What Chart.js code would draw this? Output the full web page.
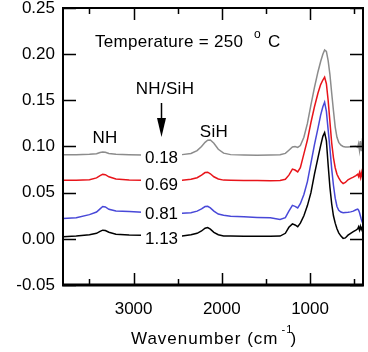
<!DOCTYPE html>
<html>
<head>
<meta charset="utf-8">
<script src="https://cdn.jsdelivr.net/npm/chart.js@4.4.0/dist/chart.umd.min.js"></script>
<style>
    html, body { margin: 0; padding: 0; background: #fff; }
</style>
</head>
<body>
<canvas id="myChart" width="368" height="352"></canvas>
<script>
// wavenumber grid (cm-1) shared by all four spectra
const wavenumbers = [3800, 3650, 3500, 3420, 3380, 3350, 3320, 3280, 3200, 3050,
    2900, 2700, 2450, 2350, 2280, 2230, 2190, 2160, 2130, 2090,
    2040, 1980, 1900, 1750, 1600, 1450, 1340, 1280, 1240, 1200,
    1170, 1140, 1110, 1070, 1030, 990, 950, 910, 880, 855,
    835, 815, 795, 775, 755, 735, 715, 695, 675, 650,
    625, 600, 570, 540, 510, 480, 460, 450, 440, 430,
    420, 410, 400];

// absorbance, offset per sample (NH/SiH ratio)
const gray018 = [0.0910, 0.0912, 0.0915, 0.0922, 0.0935, 0.0940, 0.0937, 0.0925, 0.0915, 0.0910,
    0.0908, 0.0906, 0.0912, 0.0925, 0.0955, 0.1000, 0.1045, 0.1068, 0.1070, 0.1035,
    0.0970, 0.0928, 0.0912, 0.0908, 0.0905, 0.0907, 0.0910, 0.0925, 0.0960, 0.0995,
    0.1000, 0.0990, 0.1010, 0.1100, 0.1250, 0.1450, 0.1640, 0.1810, 0.1920, 0.2000,
    0.2045, 0.2030, 0.1930, 0.1780, 0.1580, 0.1390, 0.1210, 0.1100, 0.1045, 0.1015,
    0.1000, 0.0995, 0.0995, 0.0998, 0.1000, 0.1002, 0.0990, 0.1030, 0.0960, 0.1060,
    0.0950, 0.1040, 0.0990];

const red069 = [0.0634, 0.0634, 0.0640, 0.0660, 0.0685, 0.0698, 0.0695, 0.0672, 0.0648, 0.0638,
    0.0634, 0.0632, 0.0634, 0.0645, 0.0662, 0.0690, 0.0718, 0.0722, 0.0705, 0.0672,
    0.0648, 0.0636, 0.0634, 0.0632, 0.0632, 0.0630, 0.0632, 0.0645, 0.0690, 0.0755,
    0.0745, 0.0725, 0.0770, 0.0920, 0.1070, 0.1260, 0.1430, 0.1580, 0.1670, 0.1720,
    0.1752, 0.1680, 0.1500, 0.1270, 0.1040, 0.0880, 0.0770, 0.0700, 0.0660, 0.0620,
    0.0598, 0.0610, 0.0640, 0.0655, 0.0668, 0.0685, 0.0700, 0.0675, 0.0715, 0.0665,
    0.0720, 0.0670, 0.0705];

const blue081 = [0.0220, 0.0228, 0.0262, 0.0290, 0.0325, 0.0350, 0.0345, 0.0320, 0.0302, 0.0295,
    0.0288, 0.0282, 0.0276, 0.0282, 0.0300, 0.0325, 0.0350, 0.0352, 0.0335, 0.0300,
    0.0268, 0.0256, 0.0245, 0.0238, 0.0232, 0.0228, 0.0210, 0.0230, 0.0300, 0.0362,
    0.0352, 0.0335, 0.0380, 0.0480, 0.0620, 0.0820, 0.1020, 0.1200, 0.1340, 0.1430,
    0.1480, 0.1380, 0.1180, 0.0980, 0.0760, 0.0580, 0.0440, 0.0350, 0.0310, 0.0290,
    0.0282, 0.0285, 0.0288, 0.0292, 0.0300, 0.0315, 0.0322, 0.0310, 0.0285, 0.0250,
    0.0215, 0.0185, 0.0165];

const black113 = [0.0022, 0.0030, 0.0045, 0.0060, 0.0080, 0.0094, 0.0090, 0.0072, 0.0050, 0.0042,
    0.0038, 0.0032, 0.0030, 0.0045, 0.0060, 0.0085, 0.0115, 0.0122, 0.0105, 0.0070,
    0.0045, 0.0032, 0.0030, 0.0028, 0.0027, 0.0027, 0.0030, 0.0060, 0.0125, 0.0162,
    0.0150, 0.0132, 0.0170, 0.0250, 0.0360, 0.0500, 0.0700, 0.0880, 0.1010, 0.1110,
    0.1150, 0.1060, 0.0800, 0.0560, 0.0380, 0.0250, 0.0170, 0.0110, 0.0065, 0.0030,
    0.0005, 0.0010, 0.0040, 0.0060, 0.0078, 0.0095, 0.0108, 0.0130, 0.0095, 0.0135,
    0.0100, 0.0125, 0.0095];

const ratioLabels = ['0.18', '0.69', '0.81', '1.13'];
const xMajorTicks = [1000, 2000, 3000];
const xMinorTicks = [500, 1500, 2500, 3500];
const yTicks = [-0.05, 0.00, 0.05, 0.10, 0.15, 0.20, 0.25];

const FONT = "'Liberation Sans', Arial, sans-serif";

function toPoints(values) {
    return values.map((v, i) => { return { x: wavenumbers[i], y: v } })
}

function drawTextLabels(chart) {
    const ctx = chart.ctx;
    ctx.save();
    ctx.fillStyle = '#000';
    ctx.textBaseline = 'alphabetic';

    // Temperature = 250 °C
    ctx.font = '17px ' + FONT;
    ctx.textAlign = 'left';
    ctx.letterSpacing = '0.3px';
    ctx.fillText('Temperature = 250', 95, 47);
    ctx.fillText('C', 268, 47);
    ctx.font = '12px ' + FONT;
    ctx.fillText('o', 254, 38);

    // NH/SiH + arrow
    ctx.font = '17px ' + FONT;
    ctx.textAlign = 'center';
    ctx.fillText('NH/SiH', 165, 94);
    ctx.fillText('NH', 105, 143);
    ctx.fillText('SiH', 214, 137);

    ctx.strokeStyle = '#000';
    ctx.lineWidth = 1.5;
    ctx.beginPath();
    ctx.moveTo(161.5, 103);
    ctx.lineTo(161.5, 120);
    ctx.stroke();
    ctx.beginPath();
    ctx.moveTo(157, 118);
    ctx.lineTo(166, 118);
    ctx.lineTo(161.5, 137);
    ctx.closePath();
    ctx.fill();

    // x axis title with superscript
    ctx.textAlign = 'left';
    ctx.letterSpacing = '1px';
    ctx.font = '17px ' + FONT;
    ctx.fillText('Wavenumber (cm', 131, 344);
    const w = ctx.measureText('Wavenumber (cm').width;
    ctx.font = '11px ' + FONT;
    ctx.fillText('-1', 131 + w + 3, 333);
    ctx.font = '17px ' + FONT;
    ctx.fillText(')', 131 + w + 12, 344);
    ctx.restore();
}

const annotationsPlugin = {
    id: 'annotations',
    afterDatasetsDraw(chart) {
        const ctx = chart.ctx;
        const baselines = [162.7, 190, 219.3, 244];
        ctx.save();
        ctx.font = '17px ' + FONT;
        ctx.textAlign = 'center';
        ctx.textBaseline = 'alphabetic';
        ratioLabels.forEach((t, i) => {
            ctx.fillStyle = '#fff';
            ctx.fillRect(141, baselines[i] - 15, 41, 17);
            ctx.fillStyle = '#000';
            ctx.fillText(t, 161.5, baselines[i]);
        });
        ctx.restore();
    },
    afterDraw(chart) {
        const { ctx, chartArea: a, scales: { x, y } } = chart;
        ctx.save();
        ctx.strokeStyle = '#000';
        ctx.lineWidth = 1.5;
        ctx.beginPath();
        xMajorTicks.forEach((v) => {
            const px = Math.round(x.getPixelForValue(v)) + 0.5;
            ctx.moveTo(px, a.bottom); ctx.lineTo(px, a.bottom - 12);
            ctx.moveTo(px, a.top); ctx.lineTo(px, a.top + 12);
        });
        xMinorTicks.forEach((v) => {
            const px = Math.round(x.getPixelForValue(v)) + 0.5;
            ctx.moveTo(px, a.bottom); ctx.lineTo(px, a.bottom - 6);
            ctx.moveTo(px, a.top); ctx.lineTo(px, a.top + 6);
        });
        yTicks.forEach((v) => {
            const py = Math.round(y.getPixelForValue(v)) + 0.5;
            ctx.moveTo(a.left, py); ctx.lineTo(a.left + 13, py);
            ctx.moveTo(a.right, py); ctx.lineTo(a.right - 13, py);
        });
        ctx.stroke();

        // frame
        ctx.lineWidth = 2;
        ctx.strokeRect(a.left, a.top, a.right - a.left, a.bottom - a.top);
        ctx.lineWidth = 3;
        ctx.beginPath();
        ctx.moveTo(a.left - 1, a.bottom);
        ctx.lineTo(a.right + 1, a.bottom);
        ctx.stroke();
        ctx.restore();

        drawTextLabels(chart);
    }
};

const data = {
    datasets: [{
        label: '0.18',
        data: toPoints(gray018),
        borderColor: "#8c8c8c",
        borderWidth: 1.5
    },
    {
        label: '0.69',
        data: toPoints(red069),
        borderColor: "#e8141a",
        borderWidth: 1.5
    },
    {
        label: '0.81',
        data: toPoints(blue081),
        borderColor: "#4848d8",
        borderWidth: 1.5
    },
    {
        label: '1.13',
        data: toPoints(black113),
        borderColor: "#000000",
        borderWidth: 1.5
    }]
};

const config = {
    type: 'line',
    data: data,
    options: {
        responsive: false,
        devicePixelRatio: 1,
        animation: false,
        layout: { padding: { top: 8, right: 5, left: 0, bottom: 0 } },
        elements: { point: { radius: 0 }, line: { tension: 0 } },
        plugins: { legend: { display: false }, tooltip: { enabled: false } },
        scales: {
            x: {
                type: 'linear',
                reverse: true,
                min: 400,
                max: 3800,
                grid: { display: false, drawTicks: false },
                border: { display: false },
                ticks: { padding: 14, color: '#000', font: { size: 17, family: FONT }, maxRotation: 0, callback: (v) => String(v) },
                afterBuildTicks: (s) => { s.ticks = xMajorTicks.map((v) => { return { value: v } }) },
                afterFit: (s) => { s.height = 67; s.paddingLeft = 0; s.paddingRight = 0; }
            },
            y: {
                min: -0.05,
                max: 0.25,
                grid: { display: false, drawTicks: false },
                border: { display: false },
                ticks: { padding: 8, color: '#000', font: { size: 17, family: FONT }, callback: (v) => v.toFixed(2) },
                afterBuildTicks: (s) => { s.ticks = yTicks.map((v) => { return { value: v } }) },
                afterFit: (s) => { s.width = 63; s.paddingTop = 0; s.paddingBottom = 0; }
            }
        }
    },
    plugins: [annotationsPlugin]
};

const myChart = new Chart(document.getElementById('myChart'), config);
</script>
</body>
</html>
